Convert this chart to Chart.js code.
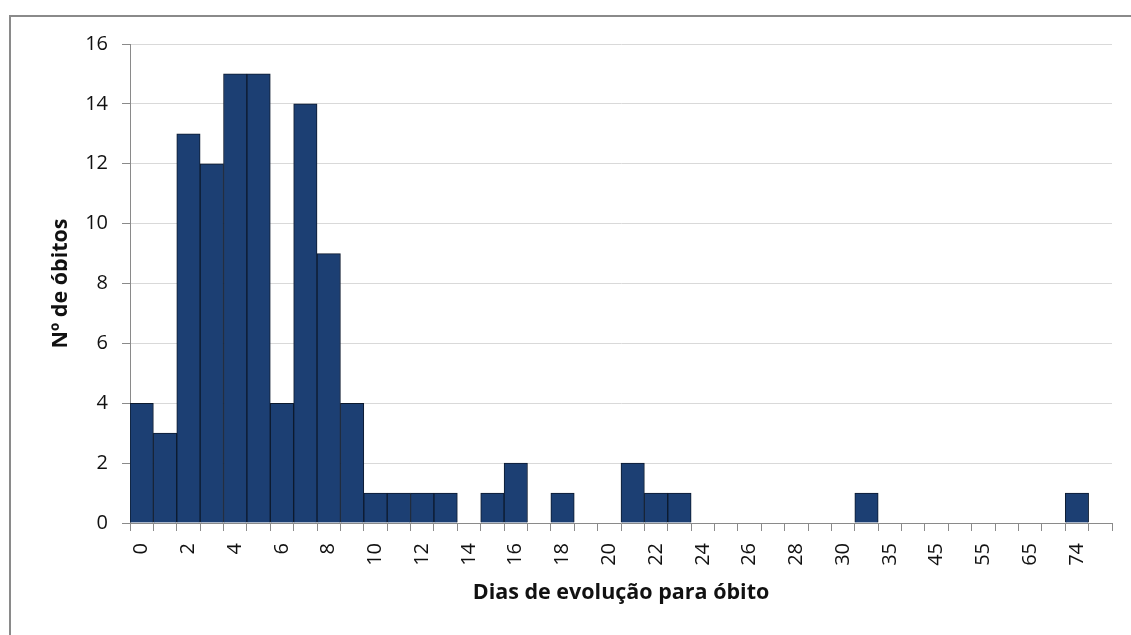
<!DOCTYPE html>
<html>
<head>
<meta charset="utf-8">
<script src="https://cdn.jsdelivr.net/npm/chart.js@4.4.0/dist/chart.umd.min.js"></script>
<style>
    body { margin: 0; background: #fff; overflow: hidden; }
    #moldura {
        position: absolute; left: 9px; top: 15px; width: 1140px; height: 640px;
        border-left: 2px solid #8a8a8a; border-top: 2px solid #8a8a8a;
    }
    #caixa { position: absolute; left: 0; top: 0; width: 1131px; height: 635px; }
</style>
</head>
<body>
<div id="moldura"></div>
<div id="caixa"><canvas id="grafico" width="1131" height="635"></canvas></div>
<script>
// categorias do eixo x (só as pares aparecem no eixo)
const dias = ["0", "1", "2", "3", "4", "5", "6", "7", "8", "9", "10", "11", "12", "13", "14", "15",
    "16", "17", "18", "19", "20", "21", "22", "23", "24", "25", "26", "27", "28", "29", "30",
    "31", "35", "40", "45", "50", "55", "60", "65", "70", "74", "75"];

const obitos = [4, 3, 13, 12, 15, 15, 4, 14, 9, 4, 1, 1, 1, 1, 0, 1,
    2, 0, 1, 0, 0, 2, 1, 1, 0, 0, 0, 0, 0, 0, 0,
    1, 0, 0, 0, 0, 0, 0, 0, 0, 1, 0];

const tituloX = "Dias de evolução para óbito";
const tituloY = "Nº de óbitos";

const fonte = "'Open Sans', Lato, sans-serif";

const ctx = document.getElementById("grafico").getContext("2d");

new Chart(ctx, {
    type: 'bar',
    data: {
        labels: dias,
        datasets: [{
            data: obitos,
            backgroundColor: '#1c3f73',
            borderColor: '#0d1a2e',
            borderWidth: 1,
            barPercentage: 1,
            categoryPercentage: 1
        }]
    },
    options: {
        responsive: false,
        animation: false,
        layout: { padding: { left: 0, right: 19, top: 44, bottom: 0 } },
        plugins: {
            legend: { display: false },
            tooltip: { enabled: false }
        },
        scales: {
            x: {
                offset: true,
                grid: {
                    offset: true,
                    drawOnChartArea: false,
                    tickLength: 8,
                    tickColor: '#8a8a8a'
                },
                border: { color: '#8a8a8a', width: 1 },
                ticks: {
                    autoSkip: false,
                    maxRotation: 90,
                    minRotation: 90,
                    padding: 12,
                    color: '#111',
                    font: { family: fonte, size: 20 },
                    callback: function (valor, indice) {
                        return indice % 2 === 0 ? dias[indice] : '';
                    }
                },
                title: {
                    display: true,
                    text: tituloX,
                    color: '#111',
                    font: { family: fonte, size: 21.5, weight: 'bold' },
                    padding: { top: 0, bottom: 29 }
                },
                afterFit: function (escala) {
                    escala.height = 112;
                    escala.paddingLeft = 0;
                    escala.paddingRight = 0;
                }
            },
            y: {
                min: 0,
                max: 16,
                ticks: {
                    stepSize: 2,
                    padding: 14,
                    color: '#111',
                    font: { family: fonte, size: 20 }
                },
                grid: {
                    color: '#d9d9d9',
                    tickColor: '#8a8a8a',
                    tickLength: 8
                },
                border: { color: '#8a8a8a', width: 1 },
                title: {
                    display: true,
                    text: tituloY,
                    color: '#111',
                    font: { family: fonte, size: 21.5, weight: 'bold' },
                    padding: { top: 48, bottom: 0 }
                },
                afterFit: function (escala) { escala.width = 130; }
            }
        }
    }
});
</script>
</body>
</html>
